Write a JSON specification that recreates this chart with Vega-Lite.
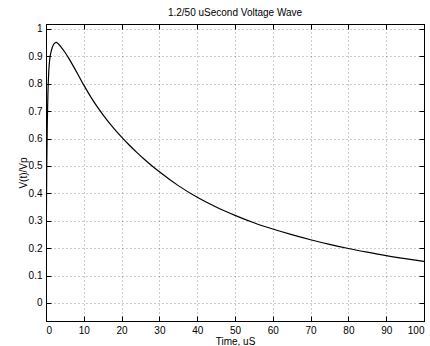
{
  "$schema": "https://vega.github.io/schema/vega-lite/v6.json",
  "autosize": "none",
  "width": 378,
  "height": 297,
  "padding": {"left": 46, "top": 24, "right": 6, "bottom": 25},
  "background": "white",
  "title": {"text": "1.2/50 uSecond Voltage Wave", "font": "Liberation Sans", "fontSize": 10, "fontWeight": "normal", "color": "#000", "offset": 6, "anchor": "middle"},
  "config": {
    "view": {"stroke": "#000", "strokeWidth": 1},
    "axis": {"labelFont": "Liberation Sans", "labelFontSize": 10, "labelColor": "#000", "titleFont": "Liberation Sans", "titleFontSize": 10, "titleFontWeight": "normal", "titleColor": "#000", "domainColor": "#000", "tickColor": "#000", "tickSize": -5, "gridColor": "#000", "gridOpacity": 0.4, "gridDash": [1, 3], "labelPadding": 9}
  },
  "data": {"values": [
    {"t": 0, "v": 0}, {"t": 0.1, "v": 0.3}, {"t": 0.2, "v": 0.5}, {"t": 0.35, "v": 0.66}, {"t": 0.5, "v": 0.76}, {"t": 0.75, "v": 0.85}, {"t": 1, "v": 0.89}, {"t": 1.5, "v": 0.925}, {"t": 2, "v": 0.943}, {"t": 2.65, "v": 0.951}, {"t": 3.3, "v": 0.945}, {"t": 4, "v": 0.9338}, {"t": 5, "v": 0.9148}, {"t": 6, "v": 0.8933}, {"t": 7, "v": 0.8698}, {"t": 8, "v": 0.845}, {"t": 9, "v": 0.8198}, {"t": 10, "v": 0.795},
    {"t": 12, "v": 0.7486}, {"t": 14, "v": 0.707}, {"t": 16, "v": 0.6696}, {"t": 18, "v": 0.6358}, {"t": 20, "v": 0.605}, {"t": 22, "v": 0.5764}, {"t": 24, "v": 0.5496}, {"t": 26, "v": 0.5244}, {"t": 28, "v": 0.5008}, {"t": 30, "v": 0.4786}, {"t": 35, "v": 0.4281}, {"t": 40, "v": 0.3856}, {"t": 45, "v": 0.3501}, {"t": 50, "v": 0.3196}, {"t": 55, "v": 0.2926}, {"t": 60, "v": 0.2696}, {"t": 65, "v": 0.2491}, {"t": 70, "v": 0.2306}, {"t": 75, "v": 0.2136}, {"t": 80, "v": 0.1986}, {"t": 85, "v": 0.1851}, {"t": 90, "v": 0.1726}, {"t": 95, "v": 0.1616}, {"t": 100, "v": 0.1516}
  ]},
  "layer": [
    {
      "mark": {"type": "line", "color": "#000", "strokeWidth": 1.2, "interpolate": "monotone", "clip": true},
      "encoding": {
        "x": {"field": "t", "type": "quantitative", "scale": {"domain": [0, 100], "nice": false}, "axis": {"orient": "bottom", "values": [0,10,20,30,40,50,60,70,80,90,100], "title": "Time, uS", "titlePadding": 1, "grid": true}},
        "y": {"field": "v", "type": "quantitative", "scale": {"domain": [-0.066, 1.018], "nice": false, "zero": false}, "axis": {"orient": "left", "values": [0,0.1,0.2,0.3,0.4,0.5,0.6,0.7,0.8,0.9,1], "format": "~g", "title": "V(t)/Vp", "titlePadding": 0, "grid": true}}
      }
    },
    {
      "mark": {"type": "line", "opacity": 0},
      "encoding": {
        "x": {"field": "t", "type": "quantitative", "axis": {"orient": "top", "values": [0,10,20,30,40,50,60,70,80,90,100], "labels": false, "title": null, "grid": false}},
        "y": {"field": "v", "type": "quantitative", "axis": {"orient": "right", "values": [0,0.1,0.2,0.3,0.4,0.5,0.6,0.7,0.8,0.9,1], "labels": false, "title": null, "grid": false}}
      }
    }
  ],
  "resolve": {"axis": {"x": "independent", "y": "independent"}}
}
